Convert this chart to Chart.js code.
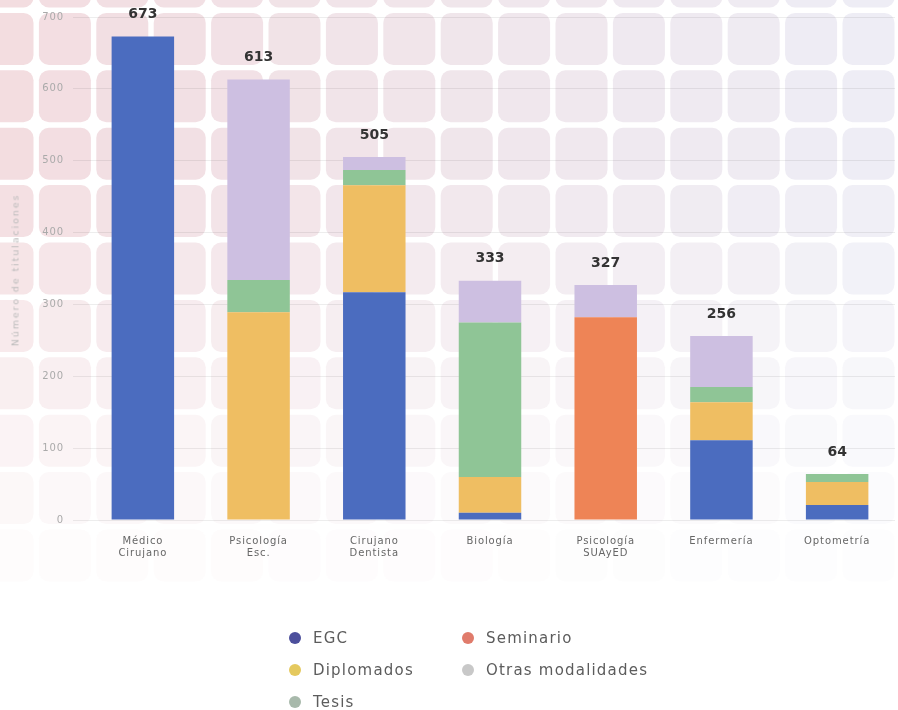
<!DOCTYPE html>
<html>
<head>
<meta charset="utf-8">
<script src="https://cdn.jsdelivr.net/npm/chart.js@4.4.1/dist/chart.umd.min.js"></script>
<style>
  html,body{margin:0;padding:0;background:#fff;}
  #wrap{position:relative;width:898px;height:710px;overflow:hidden;}
  #bg{position:absolute;left:0;top:0;}
  #chartBox{position:absolute;left:0;top:0;width:898px;height:600px;}
  #ytitle{position:absolute;left:15px;top:270px;transform:translate(-50%,-50%) rotate(-90deg);white-space:nowrap;
    font-family:"DejaVu Sans",sans-serif;font-size:9.5px;color:#bbb;letter-spacing:1.9px;}
  #legend{position:absolute;left:289px;top:626px;display:grid;grid-template-columns:173px 200px;row-gap:8px;
    font-family:"DejaVu Sans",sans-serif;font-size:15px;color:#5c5c5c;letter-spacing:1.2px;}
  #legend .it{display:flex;align-items:center;height:24px;}
  #legend .dot{width:12px;height:12px;border-radius:50%;margin-right:12px;}
</style>
</head>
<body>
<div id="wrap">
  <canvas id="bg" width="898" height="710"></canvas>
  <div id="chartBox"><canvas id="chart"></canvas></div>
  <div id="ytitle">Número de titulaciones</div>
  <div id="legend"></div>
</div>
<script>
const categories = [['Médico','Cirujano'],['Psicología','Esc.'],['Cirujano','Dentista'],['Biología'],['Psicología','SUAyED'],['Enfermería'],['Optometría']];
const egc        = [673,   0, 317,  10,   0, 111, 21];
const diplomados = [  0, 289, 149,  50,   0,  53, 32];
const tesis      = [  0,  45,  21, 215,   0,  21, 11];
const seminario  = [  0,   0,   0,   0, 282,   0,  0];
const otras      = [  0, 279,  18,  58,  45,  71,  0];
const totals     = [673, 613, 505, 333, 327, 256, 64];
const yTicks = [0,100,200,300,400,500,600,700];

// decorative tiled background
(function(){
  const c = document.getElementById('bg').getContext('2d');
  c.fillStyle = '#fff'; c.fillRect(0,0,898,710);
  const pitch = 57.4, size = 52, r = 10;
  for(let y=-44.5; y<710; y+=pitch){
    for(let x=-18.5; x<898; x+=pitch){
      const t = Math.max(0, Math.min(1, (x+26)/898));
      const cr = 243 + (238-243)*t, cg = 221 + (238-221)*t, cb = 224 + (246-224)*t;
      const yc = y + size/2;
      let a = yc < 180 ? 1 : Math.max(0, 1 - (yc-180)/440);
      a = Math.pow(a, 1.2);
      const R = Math.round(255 - (255-cr)*a), G = Math.round(255 - (255-cg)*a), B = Math.round(255 - (255-cb)*a);
      c.fillStyle = `rgb(${R},${G},${B})`;
      c.beginPath(); c.roundRect(x, y, size, size, r); c.fill();
    }
  }
})();

const legendItems = [
  ['EGC','#4c4f9c'],['Seminario','#e07b6b'],
  ['Diplomados','#e5c95e'],['Otras modalidades','#c8c8c8'],
  ['Tesis','#a8b9ab']
];
document.getElementById('legend').innerHTML = legendItems.map(([t,c]) =>
  `<div class="it"><span class="dot" style="background:${c}"></span>${t}</div>`).join('');

const spacing = {
  id:'spacing',
  beforeDraw(chart){ chart.ctx.letterSpacing = '0.9px'; }
};

const totalLabels = {
  id:'totalLabels',
  afterDatasetsDraw(chart){
    const {ctx, scales:{x,y}} = chart;
    ctx.save();
    ctx.letterSpacing = '0px';
    ctx.font = 'bold 14px "DejaVu Sans", sans-serif';
    ctx.fillStyle = '#333';
    ctx.textAlign = 'center';
    ctx.textBaseline = 'middle';
    totals.forEach((v,i) => ctx.fillText(v, x.getPixelForValue(i), y.getPixelForValue(v) - 22));
    ctx.restore();
  }
};

new Chart(document.getElementById('chart'), {
  type:'bar',
  data:{
    labels: categories,
    datasets:[
      {label:'EGC', data:egc, backgroundColor:'#4b6cbf'},
      {label:'Diplomados', data:diplomados, backgroundColor:'#efbe62'},
      {label:'Tesis', data:tesis, backgroundColor:'#8fc596'},
      {label:'Seminario', data:seminario, backgroundColor:'#ee8456'},
      {label:'Otras modalidades', data:otras, backgroundColor:'#cdbfe1'}
    ]
  },
  options:{
    responsive:true, maintainAspectRatio:false, animation:false,
    layout:{padding:{top:17, right:3, left:0, bottom:0}},
    datasets:{bar:{categoryPercentage:1, barPercentage:0.54}},
    plugins:{legend:{display:false}, tooltip:{enabled:false}},
    scales:{
      x:{
        stacked:true,
        grid:{display:false},
        border:{display:false},
        ticks:{color:'#666', font:{family:'"DejaVu Sans", sans-serif', size:10, lineHeight:1.25}, padding:7, maxRotation:0},
        afterFit(s){ s.height = 80; }
      },
      y:{
        stacked:true, min:0, max:700,
        afterBuildTicks(s){ s.ticks = yTicks.map(v => ({value:v})); },
        grid:{color:'rgba(0,0,0,0.07)', tickLength:12, tickColor:'rgba(0,0,0,0.07)'},
        border:{display:false},
        ticks:{color:'#aaa', font:{family:'"DejaVu Sans", sans-serif', size:10}, padding:9},
        afterFit(s){ s.width = 85; }
      }
    }
  },
  plugins:[spacing, totalLabels]
});
</script>
</body>
</html>
